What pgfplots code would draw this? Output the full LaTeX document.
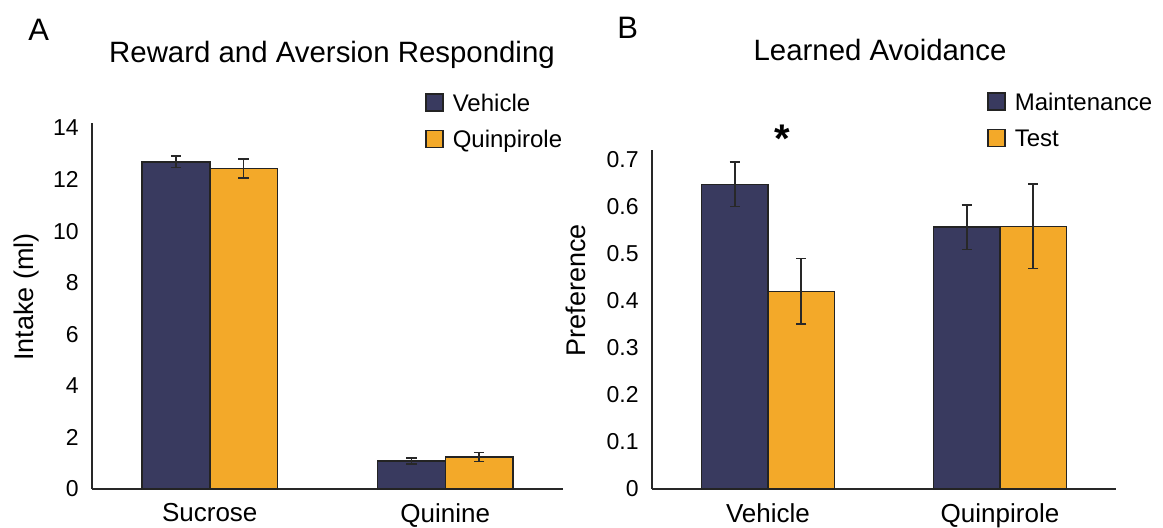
\documentclass[border=0pt]{standalone}
\usepackage{pgfplots}
\pgfplotsset{compat=1.18}
\usepackage{fontspec}
\setmainfont{Liberation Sans}
\definecolor{navy}{RGB}{57,58,95}
\definecolor{gold}{RGB}{243,169,41}
\definecolor{edge}{RGB}{35,35,35}
\definecolor{axcol}{RGB}{40,40,40}

\pgfplotsset{
 panel/.style={
  scale only axis, axis lines*=left,
  axis line style={line width=0.75pt, axcol},
  xmin=-0.5, xmax=1.5, ymin=0,
  xtick={0,1}, tick style={draw=none}, major tick length=0pt,
  ybar=0pt, bar width=0.287,
  every axis plot/.append style={draw=edge, line width=0.75pt},
  yticklabel style={font=\fontsize{11.5}{13}\selectfont, inner sep=0pt, xshift=-6.5pt, anchor=east},
  xticklabel style={font=\fontsize{13}{15}\selectfont, inner sep=0pt, yshift=-7pt, anchor=north},
  legend style={draw=none, fill=none, inner sep=0pt, outer sep=0pt, anchor=north west,
    font=\fontsize{12}{14}\selectfont, row sep=8.9pt, column sep=4.5pt,
    nodes={inner sep=0pt, text height=8.6pt, text depth=0pt}},
  legend cell align=left,
  legend image code/.code={\draw[##1, line width=0.9pt] (0pt,-4.25pt) rectangle (8.5pt,4.25pt);},
  error bars/y dir=both, error bars/y explicit,
  error bars/error bar style={line width=0.8pt, color=axcol},
  error bars/error mark options={rotate=90, mark size=2.6pt, line width=0.8pt, color=axcol},
  clip=false,
 }
}

\begin{document}
\begin{tikzpicture}
\path[use as bounding box] (0,0) rectangle (581.5pt,-263.5pt);

% Panel A
\begin{axis}[panel, at={(46pt,-244.5pt)}, anchor=south west,
  width=235.5pt, height=183pt, ymax=14.19,
  ytick={0,2,4,6,8,10,12,14}, yticklabels={0,2,4,6,8,10,12,14},
  xticklabels={Sucrose,Quinine},
  legend style={at={(0.707,1.082)}}]
\addplot[fill=navy, bar shift=-0.1435] coordinates {(0,12.68) +- (0,0.22) (1,1.08) +- (0,0.12)};
\addlegendentry{Vehicle}
\addplot[fill=gold, bar shift=0.1435] coordinates {(0,12.42) +- (0,0.37) (1,1.24) +- (0,0.18)};
\addlegendentry{Quinpirole}
\end{axis}

% Panel B
\begin{axis}[panel, at={(326pt,-244.5pt)}, anchor=south west,
  width=232pt, height=169.5pt, ymax=0.72,
  ytick={0,0.1,0.2,0.3,0.4,0.5,0.6,0.7}, yticklabels={0,0.1,0.2,0.3,0.4,0.5,0.6,0.7},
  xticklabels={Vehicle,Quinpirole},
  legend style={at={(0.722,1.171)}}]
\addplot[fill=navy, bar shift=-0.1435] coordinates {(0,0.647) +- (0,0.047) (1,0.556) +- (0,0.047)};
\addlegendentry{Maintenance}
\addplot[fill=gold, bar shift=0.1435] coordinates {(0,0.42) +- (0,0.07) (1,0.558) +- (0,0.09)};
\addlegendentry{Test}
\node[anchor=base, inner sep=0pt, font=\fontsize{20}{20}\selectfont\bfseries] at (axis cs:0.06,0.715) {*};
\end{axis}

% titles and labels
\node[anchor=base, inner sep=0pt, font=\fontsize{14.7}{16}\selectfont] at (166pt,-31pt) {Reward and Aversion Responding};
\node[anchor=base, inner sep=0pt, font=\fontsize{14.7}{16}\selectfont] at (440pt,-30pt) {Learned Avoidance};
\node[anchor=base west, inner sep=0pt, font=\fontsize{15.5}{17}\selectfont] at (14pt,-20pt) {A};
\node[anchor=base west, inner sep=0pt, font=\fontsize{15.5}{17}\selectfont] at (308.5pt,-19pt) {B};
\node[rotate=90, anchor=base, inner sep=0pt, font=\fontsize{13.5}{15}\selectfont] at (16.5pt,-148.5pt) {Intake (ml)};
\node[rotate=90, anchor=base, inner sep=0pt, font=\fontsize{13.5}{15}\selectfont] at (292.5pt,-145pt) {Preference};
\end{tikzpicture}
\end{document}
